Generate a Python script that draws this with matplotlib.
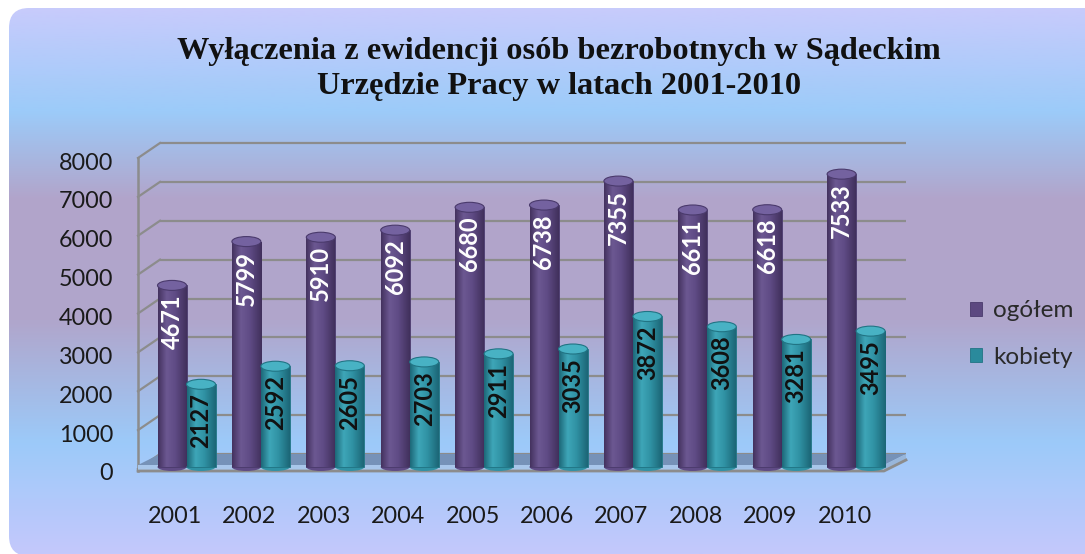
import numpy as np
import matplotlib
matplotlib.use('Agg')
import matplotlib.pyplot as plt
from matplotlib.patches import FancyBboxPatch, Ellipse, Polygon
from matplotlib.colors import to_rgb
from matplotlib.transforms import ScaledTranslation

# data
years = ['2001', '2002', '2003', '2004', '2005', '2006', '2007', '2008', '2009', '2010']
ogolem = [4671, 5799, 5910, 6092, 6680, 6738, 7355, 6611, 6618, 7533]
kobiety = [2127, 2592, 2605, 2703, 2911, 3035, 3872, 3608, 3281, 3495]
series_names = ['ogółem', 'kobiety']
y_ticks = [0, 1000, 2000, 3000, 4000, 5000, 6000, 7000, 8000]
title = 'Wyłączenia z ewidencji osób bezrobotnych w Sądeckim\nUrzędzie Pracy w latach 2001-2010'

plt.rcParams['font.family'] = ['Lato', 'DejaVu Sans']

# pixel geometry of the picture
W, H = 1085, 554
PX = 74.4            # px per category
S = 311 / 8000       # px per value unit
X0 = 175             # px of first category
BASE = 467           # px (from top) of bar base
AX_L, AX_R, AX_T, AX_B = 130, 910, 140, 480


def dx(px):
    return px / PX


def du(px):
    return px / S


def grad_colors(stops, n=64):
    pos = [p for p, c in stops]
    cols = np.array([to_rgb(c) for p, c in stops])
    t = np.linspace(0, 1, n)
    return np.stack([np.interp(t, pos, cols[:, k]) for k in range(3)], axis=-1)


fig = plt.figure(figsize=(W / 100, H / 100), dpi=100)
fig.patch.set_facecolor('white')

# background with rounded corners and vertical gradient
ax_bg = fig.add_axes([0, 0, 1, 1])
ax_bg.set_xlim(0, W)
ax_bg.set_ylim(H, 0)
ax_bg.axis('off')
bg_stops = [(0.0, '#cbcbfc'), (0.2, '#9ccbf9'), (0.36, '#b2a4ca'), (0.58, '#b0a6cc'),
            (0.8, '#9ccaf9'), (1.0, '#c4c8fc')]
bg = grad_colors(bg_stops, 256)[:, None, :]
box = FancyBboxPatch((9, 8), W + 20, H - 6, boxstyle='round,pad=0,rounding_size=20',
                     facecolor='none', edgecolor='none')
ax_bg.add_patch(box)
im = ax_bg.imshow(bg, extent=[0, W, H, 0], aspect='auto', zorder=0)
im.set_clip_path(box)

# main axes
ax = fig.add_axes([AX_L / W, 1 - AX_B / H, (AX_R - AX_L) / W, (AX_B - AX_T) / H])
ax.patch.set_alpha(0)
xlim = ((AX_L - X0) / PX, (AX_R - X0) / PX)
ylim = ((BASE - AX_B) / S, (BASE - AX_T) / S)

xf = dx(138 - X0)
xr = dx(884 - X0)
back_x, back_y = dx(22), du(13)
grid_c = '#8c8c8c'

# back wall grid lines and left wall
ax.hlines(np.array(y_ticks) + back_y, xf + back_x, xr + back_x, color=grid_c, lw=1.6, zorder=1)
for v in y_ticks:
    ax.plot([xf, xf + back_x], [v - du(2), v + back_y], color=grid_c, lw=1.6, zorder=1)
ax.plot([xf, xf], [-du(4), y_ticks[-1] - du(2)], color=grid_c, lw=1.8, zorder=1)

# floor
ax.add_patch(Polygon([(xf, du(2)), (xr, du(2)), (xr + back_x, back_y), (xf + back_x, back_y)],
                     closed=True, facecolor='#7692b8', edgecolor='none', zorder=1.5))
ax.add_patch(Polygon([(xf, -du(4)), (xr, -du(4)), (xr, du(2)), (xf, du(2))],
                     closed=True, facecolor='#a8c6ea', edgecolor='none', zorder=1.5))
ax.add_patch(Polygon([(xr, -du(4)), (xr + back_x, back_y - du(6)), (xr + back_x, back_y), (xr, du(2))],
                     closed=True, facecolor='#98b6da', edgecolor='none', zorder=1.5))
ax.plot([xf, xr, xr + back_x], [-du(4), -du(4), back_y - du(6)], color=grid_c, lw=2, zorder=1.6)

# cylinders
w = dx(29)
idx = np.arange(len(years))
styles = [
    dict(pos=idx - dx(3), vals=ogolem, base='#5c4880', top='#7462a0', edge='#4a3a6c', txt='white',
         stops=[(0, '#44325f'), (0.3, '#6c5892'), (0.6, '#5f4b85'), (1, '#41305c')]),
    dict(pos=idx + dx(26), vals=kobiety, base='#2a8a9c', top='#48b2c4', edge='#217484', txt='#111111',
         stops=[(0, '#1d6878'), (0.3, '#3ea6b8'), (0.6, '#3092a4'), (1, '#1c6676')]),
]
ell_h = du(10)
handles = []
for k, st in enumerate(styles):
    z = 3 + k
    bars = ax.bar(st['pos'], st['vals'], width=w, color=st['base'], edgecolor=st['edge'],
                  linewidth=0.6, zorder=z, label=series_names[k])
    handles.append(bars)
    grad = grad_colors(st['stops'])[None, :, :]
    for rect, v in zip(bars, st['vals']):
        x0 = rect.get_x()
        xc = x0 + w / 2
        ax.add_patch(Ellipse((xc, 0), w, du(8), facecolor=st['stops'][2][1], edgecolor='none',
                             zorder=z - 0.1))
        gi = ax.imshow(grad, extent=[x0, x0 + w, 0, v], aspect='auto', zorder=z + 0.1)
        gi.set_clip_path(rect)
        ax.add_patch(Ellipse((xc, v), w, ell_h, facecolor=st['top'], edgecolor=st['edge'],
                             lw=0.8, zorder=z + 0.2))
        ax.text(xc, v - du(9), str(v), rotation=90, ha='center', va='top', color=st['txt'],
                fontsize=17, fontweight='bold', zorder=10)

ax.set_xlim(*xlim)
ax.set_ylim(*ylim)
ax.set_aspect('auto')
for sp in ax.spines.values():
    sp.set_visible(False)

ax.set_yticks(y_ticks)
ax.set_yticklabels([str(v) for v in y_ticks])
ax.set_xticks(idx)
ax.set_xticklabels(years)
ax.tick_params(axis='y', length=0, pad=12, labelsize=16.8, labelcolor='#1a1a1a')
ax.tick_params(axis='x', length=0, pad=19, labelsize=16.8, labelcolor='#1a1a1a')
shift = ScaledTranslation(0, -5 / 100, fig.dpi_scale_trans)
for lab in ax.get_yticklabels():
    lab.set_transform(lab.get_transform() + shift)

fig.legend(handles, series_names, loc='center left', bbox_to_anchor=(970 / W, 1 - 334 / H),
           frameon=False, fontsize=17.5, handlelength=0.5, handleheight=0.5, handletextpad=0.45,
           labelspacing=1.05, borderpad=0, borderaxespad=0, labelcolor='#2a2a2a')

fig.text(559 / W, 1 - 69 / H, title, ha='center', va='center', family='Liberation Serif',
         fontweight='bold', fontsize=23.3, linespacing=1.25, color='#111111')

fig.savefig('out.png', dpi=100)
